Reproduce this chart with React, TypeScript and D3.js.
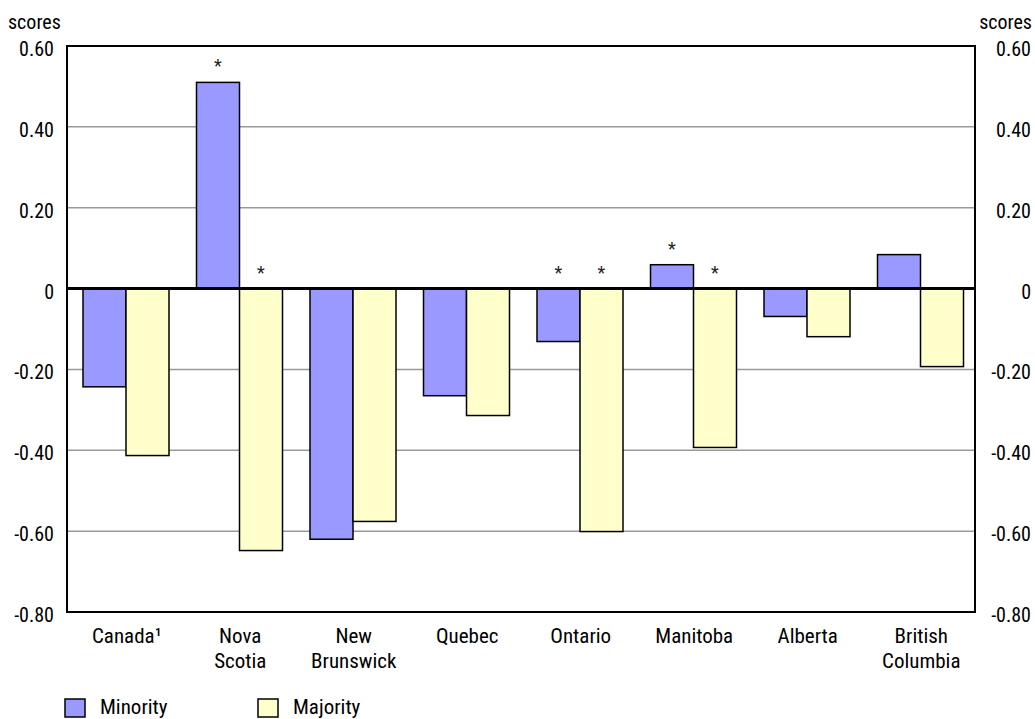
import React from "react";
import * as d3 from "d3";

const categories = ["Canada¹", "Nova\nScotia", "New\nBrunswick", "Quebec", "Ontario", "Manitoba", "Alberta", "British\nColumbia"];
const minority = [-0.243, 0.51, -0.62, -0.265, -0.131, 0.059, -0.069, 0.084];
const majority = [-0.413, -0.648, -0.576, -0.314, -0.601, -0.393, -0.119, -0.193];
const minoritySig = [false, true, false, false, true, true, false, false];
const majoritySig = [false, true, false, false, true, true, false, false];
const yTicks = [0.6, 0.4, 0.2, 0, -0.2, -0.4, -0.6, -0.8];
const seriesNames = ["Minority", "Majority"];
const seriesColors = ["#9999ff", "#ffffcc"];

const W = 1035, H = 719;
const L = 67, R = 975, T = 46, B = 612;
const FONT = "Roboto, sans-serif";

export default function App() {
  const y = d3.scaleLinear().domain([-0.8, 0.6]).range([B, T]);
  const x = d3.scaleBand().domain(categories).range([L, R]).paddingInner(0).paddingOuter(0);
  const bw = x.bandwidth();
  const xs = d3.scaleBand().domain(seriesNames).range([16, 16 + 86]).padding(0);
  const fmt = (v: number) => (Math.abs(v) < 1e-9 ? "0" : v.toFixed(2));
  const series = [minority, majority];
  const sigs = [minoritySig, majoritySig];

  return (
    <svg width={W} height={H} style={{ display: "block", position: "absolute", left: 0, top: 0, fontStretch: "condensed" }} fontFamily={FONT}>
      <rect x={0} y={0} width={W} height={H} fill="#fff" />
      {yTicks.filter((t) => t !== 0 && t !== 0.6 && t !== -0.8).map((t) => (
        <line key={t} x1={L} x2={R} y1={y(t)} y2={y(t)} stroke="#999" strokeWidth={1.5} />
      ))}
      {categories.map((c, i) =>
        series.map((s, si) => {
          const v = s[i];
          const x0 = (x(c) as number) + (xs(seriesNames[si]) as number);
          const y0 = Math.min(y(v), y(0));
          const h = Math.abs(y(v) - y(0));
          return (
            <g key={c + si}>
              <rect x={x0} y={y0} width={xs.bandwidth()} height={h} fill={seriesColors[si]} stroke="#000" strokeWidth={1.5} />
              {sigs[si][i] && (
                <text x={x0 + xs.bandwidth() / 2} y={y0 - 10} textAnchor="middle" fontSize={18} fill="#222">*</text>
              )}
            </g>
          );
        })
      )}
      <line x1={L} x2={R} y1={y(0)} y2={y(0)} stroke="#000" strokeWidth={3} />
      <rect x={L} y={T} width={R - L} height={B - T} fill="none" stroke="#000" strokeWidth={2} />
      {yTicks.map((t) => (
        <g key={"l" + t}>
          <text x={54} y={y(t) + 10} textAnchor="end" fontSize={20} fill="#000">{fmt(t)}</text>
          <text x={1031} y={y(t) + 10} textAnchor="end" fontSize={20} fill="#000">{fmt(t)}</text>
        </g>
      ))}
      <text x={8} y={29} fontSize={20} fill="#000">scores</text>
      <text x={1032} y={29} fontSize={20} textAnchor="end" fill="#000">scores</text>
      {categories.map((c) => (
        <text key={"c" + c} x={(x(c) as number) + bw / 2 + 3} y={643} textAnchor="middle" fontSize={21} fill="#000">
          {c.split("\n").map((line, li) => (
            <tspan key={li} x={(x(c) as number) + bw / 2 + 3} dy={li === 0 ? 0 : 25}>{line}</tspan>
          ))}
        </text>
      ))}
      {seriesNames.map((n, i) => (
        <g key={n} transform={`translate(${65 + i * 193},0)`}>
          <rect x={0} y={699} width={20} height={18} fill={seriesColors[i]} stroke="#000" strokeWidth={1.5} />
          <text x={35} y={714} fontSize={21} fill="#000">{n}</text>
        </g>
      ))}
    </svg>
  );
}
